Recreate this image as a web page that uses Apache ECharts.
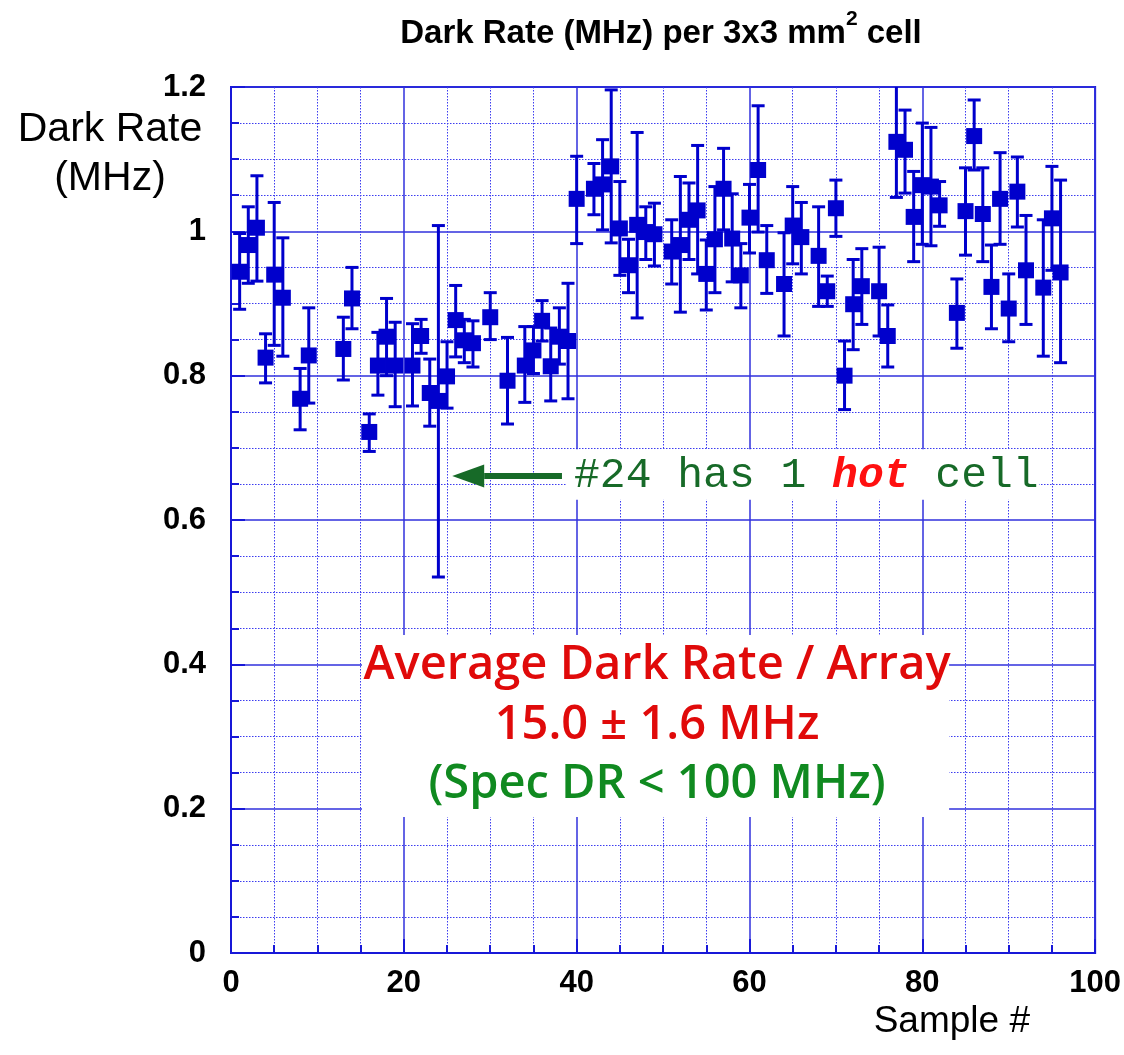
<!DOCTYPE html>
<html>
<head>
<meta charset="utf-8">
<script src="https://cdn.jsdelivr.net/npm/echarts@6/dist/echarts.min.js"></script>
<style>
  html, body { margin: 0; padding: 0; background: #ffffff; }
  #chart { width: 1124px; height: 1055px; }
</style>
</head>
<body>
<div id="chart"></div>
<script>
// Sample numbers of the measured arrays
const samples = [1, 2, 3, 4, 5, 6, 8, 9, 13, 14, 16, 17, 18, 19, 21, 22, 23, 24, 25, 26,
  27, 28, 30, 32, 34, 35, 36, 37, 38, 39, 40, 42, 43, 44, 45, 46, 47, 48, 49, 51,
  52, 53, 54, 55, 56, 57, 58, 59, 60, 61, 62, 64, 65, 66, 68, 69, 70, 71, 72, 73,
  75, 76, 77, 78, 79, 80, 81, 82, 84, 85, 86, 87, 88, 89, 90, 91, 92, 94, 95, 96];

// Mean dark rate per cell (MHz)
const rate = [0.944, 0.981, 1.005, 0.825, 0.940, 0.908, 0.768, 0.828, 0.837, 0.907,
  0.722, 0.814, 0.854, 0.814, 0.814, 0.855, 0.776, 0.765, 0.799, 0.877,
  0.849, 0.845, 0.881, 0.793, 0.814, 0.835, 0.876, 0.813, 0.854, 0.848,
  1.045, 1.059, 1.065, 1.090, 1.004, 0.953, 1.009, 0.999, 0.996, 0.972,
  0.981, 1.016, 1.029, 0.941, 0.989, 1.059, 0.990, 0.939, 1.019, 1.085,
  0.960, 0.927, 1.008, 0.992, 0.966, 0.917, 1.032, 0.800, 0.899, 0.924,
  0.917, 0.855, 1.124, 1.113, 1.020, 1.064, 1.062, 1.036, 0.887, 1.028,
  1.132, 1.024, 0.923, 1.045, 0.893, 1.055, 0.946, 0.922, 1.018, 0.943];

// Lower end of each error bar (MHz)
const rateLow = [0.892, 0.928, 0.931, 0.790, 0.842, 0.827, 0.725, 0.762, 0.794, 0.865,
  0.695, 0.773, 0.800, 0.757, 0.758, 0.831, 0.730, 0.521, 0.755, 0.826,
  0.818, 0.812, 0.850, 0.733, 0.763, 0.803, 0.848, 0.765, 0.816, 0.768,
  0.983, 1.023, 1.002, 0.984, 0.939, 0.915, 0.880, 0.961, 0.952, 0.927,
  0.888, 0.961, 0.941, 0.891, 0.915, 1.002, 0.930, 0.894, 0.970, 0.999,
  0.914, 0.855, 0.955, 0.941, 0.896, 0.896, 0.993, 0.753, 0.836, 0.871,
  0.855, 0.812, 1.047, 1.053, 0.958, 0.982, 0.980, 1.007, 0.838, 0.967,
  1.085, 0.958, 0.865, 0.982, 0.847, 1.006, 0.871, 0.827, 0.946, 0.818];

// Upper end of each error bar (MHz)
const rateHigh = [0.997, 1.034, 1.077, 0.858, 1.040, 0.991, 0.810, 0.894, 0.881, 0.950,
  0.747, 0.860, 0.907, 0.874, 0.872, 0.878, 0.823, 1.008, 0.847, 0.925,
  0.878, 0.876, 0.915, 0.853, 0.868, 0.868, 0.904, 0.866, 0.894, 0.928,
  1.104, 1.094, 1.127, 1.196, 1.069, 0.989, 1.137, 1.034, 1.039, 1.016,
  1.076, 1.067, 1.119, 0.988, 1.062, 1.115, 1.052, 0.983, 1.065, 1.174,
  1.008, 0.998, 1.062, 1.040, 1.034, 0.938, 1.071, 0.848, 0.961, 0.976,
  0.978, 0.898, 1.205, 1.168, 1.083, 1.150, 1.144, 1.069, 0.934, 1.088,
  1.182, 1.088, 0.981, 1.109, 0.941, 1.103, 1.022, 1.016, 1.090, 1.071];

// Axis ranges and tick steps
const xRange = [0, 100];
const xStep = 20;
const yRange = [0, 1.2];
const yStep = 0.2;

// Annotation text
const titleText = ['Dark Rate (MHz) per 3x3 mm', '2', ' cell'];
const yName = 'Dark Rate\n(MHz)';
const xName = 'Sample #';
const hotNote = ['#24 has 1 ', 'hot', ' cell'];
const summaryLines = ['Average Dark Rate / Array', '15.0 \u00b1 1.6 MHz', '(Spec DR < 100 MHz)'];

const BLUE = '#0000cc';
const FRAME = '#1818d8';
const GRID_SOLID = '#3030dc';
const GRID_DOT = '#3c3cf0';
const RED = '#e00a0a';
const GREEN = '#108a20';
const DARK_GREEN = '#176a28';

const chart = echarts.init(document.getElementById('chart'), null, { renderer: 'canvas' });

const points = samples.map((s, i) => [s, rate[i]]);
const bars = samples.map((s, i) => [s, rateLow[i], rateHigh[i]]);

function errorBar(params, api) {
  const x = api.value(0);
  const lo = api.coord([x, api.value(1)]);
  const hi = api.coord([x, api.value(2)]);
  const w = 6.5;
  const st = { stroke: BLUE, lineWidth: 3 };
  return {
    type: 'group',
    children: [
      { type: 'line', shape: { x1: lo[0], y1: lo[1], x2: hi[0], y2: hi[1] }, style: st },
      { type: 'line', shape: { x1: lo[0] - w, y1: lo[1], x2: lo[0] + w, y2: lo[1] }, style: st },
      { type: 'line', shape: { x1: hi[0] - w, y1: hi[1], x2: hi[0] + w, y2: hi[1] }, style: st }
    ]
  };
}

const labelFont = { fontFamily: 'Liberation Sans, Arial, sans-serif', fontWeight: 'bold', fontSize: 31, color: '#000' };

chart.setOption({
  animation: false,
  backgroundColor: '#ffffff',
  grid: {
    left: 231, top: 87, width: 865, height: 866,
    show: true, borderColor: FRAME, borderWidth: 2, backgroundColor: 'transparent'
  },
  xAxis: {
    type: 'value', min: xRange[0], max: xRange[1], interval: xStep,
    axisLine: { show: true, onZero: false, lineStyle: { color: FRAME, width: 2 } },
    axisTick: { show: true, inside: true, length: 14, lineStyle: { color: FRAME, width: 2 } },
    minorTick: { show: true, splitNumber: 4, length: 8, lineStyle: { color: FRAME, width: 2 } },
    splitLine: { show: true, lineStyle: { color: GRID_SOLID, width: 1.5 } },
    minorSplitLine: { show: true, lineStyle: { color: GRID_DOT, width: 1, type: [1.5, 1.5] } },
    axisLabel: Object.assign({ margin: 15 }, labelFont)
  },
  yAxis: {
    type: 'value', min: yRange[0], max: yRange[1], interval: yStep,
    axisLine: { show: true, onZero: false, lineStyle: { color: FRAME, width: 2 } },
    axisTick: { show: true, inside: true, length: 14, lineStyle: { color: FRAME, width: 2 } },
    minorTick: { show: true, splitNumber: 4, length: 8, lineStyle: { color: FRAME, width: 2 } },
    splitLine: { show: true, lineStyle: { color: GRID_SOLID, width: 1.5 } },
    minorSplitLine: { show: true, lineStyle: { color: GRID_DOT, width: 1, type: [1.5, 1.5] } },
    axisLabel: Object.assign({ margin: 25 }, labelFont)
  },
  series: [
    {
      type: 'custom',
      name: 'error',
      renderItem: errorBar,
      data: bars,
      clip: true,
      z: 3,
      encode: { x: 0, y: [1, 2] },
      markArea: {
        silent: true,
        itemStyle: { color: '#ffffff', opacity: 1, borderWidth: 0 },
        label: { show: false },
        data: [
          [{ coord: [15.15, 0.4405] }, { coord: [83.1, 0.1885] }],
          [{ coord: [38.85, 0.698] }, { coord: [93.5, 0.628] }]
        ]
      }
    },
    {
      type: 'scatter',
      name: 'rate',
      data: points,
      symbol: 'rect',
      symbolSize: 16,
      itemStyle: { color: BLUE, opacity: 1 },
      z: 4
    }
  ]
});

// Annotations anchored in data coordinates
const px = (x, y) => chart.convertToPixel({ gridIndex: 0 }, [x, y]);
const tip = px(25.6, 0.661);
const headBase = px(29.3, 0.661);
const tail = px(38.3, 0.661);
const hotAt = px(39.7, 0.661);
const summaryAt = px(49.3, 0.3);

const summaryFont = '600 47px Comic Sans MS, Open Sans, sans-serif';

chart.setOption({
  graphic: [
    {
      type: 'text', x: 661, y: 34, z: 100,
      style: {
        text: '{t|' + titleText[0] + '}{s|' + titleText[1] + '}{t|' + titleText[2] + '}',
        align: 'center', verticalAlign: 'middle',
        rich: {
          t: { fontFamily: 'Liberation Sans, Arial, sans-serif', fontWeight: 'bold', fontSize: 33, lineHeight: 50, fill: '#000' },
          s: { fontFamily: 'Liberation Sans, Arial, sans-serif', fontWeight: 'bold', fontSize: 21, lineHeight: 50, verticalAlign: 'top', fill: '#000' }
        }
      }
    },
    {
      type: 'text', x: 110, y: 154, z: 100,
      style: {
        text: yName, align: 'center', verticalAlign: 'middle',
        font: '41px Liberation Sans, Arial, sans-serif', lineHeight: 49, fill: '#000'
      }
    },
    {
      type: 'text', x: 1030, y: 1022, z: 100,
      style: {
        text: xName, align: 'right', verticalAlign: 'middle',
        font: '37px Liberation Sans, Arial, sans-serif', fill: '#000'
      }
    },
    {
      type: 'rect', z: 100,
      shape: { x: headBase[0], y: tail[1] - 3, width: tail[0] - headBase[0], height: 6 },
      style: { fill: DARK_GREEN }
    },
    {
      type: 'polygon', z: 100,
      shape: { points: [[tip[0], tip[1]], [headBase[0], tip[1] - 11.5], [headBase[0], tip[1] + 11.5]] },
      style: { fill: DARK_GREEN }
    },
    {
      type: 'text', x: hotAt[0], y: hotAt[1], z: 100,
      style: {
        text: '{g|' + hotNote[0] + '}{h|' + hotNote[1] + '}{g|' + hotNote[2] + '}',
        align: 'left', verticalAlign: 'middle',
        rich: {
          g: { fontFamily: 'Liberation Mono, Courier New, monospace', fontSize: 43, fill: DARK_GREEN },
          h: { fontFamily: 'Liberation Mono, Courier New, monospace', fontSize: 43, fontWeight: 'bold', fontStyle: 'italic', fill: '#ff1010' }
        }
      }
    },
    {
      type: 'text', x: summaryAt[0], y: 666, z: 100,
      style: { text: summaryLines[0], align: 'center', verticalAlign: 'middle', font: summaryFont, fill: RED }
    },
    {
      type: 'text', x: summaryAt[0], y: 726, z: 100,
      style: { text: summaryLines[1], align: 'center', verticalAlign: 'middle', font: summaryFont, fill: RED }
    },
    {
      type: 'text', x: summaryAt[0], y: 785, z: 100,
      style: { text: summaryLines[2], align: 'center', verticalAlign: 'middle', font: summaryFont, fill: GREEN }
    }
  ]
});
</script>
</body>
</html>
